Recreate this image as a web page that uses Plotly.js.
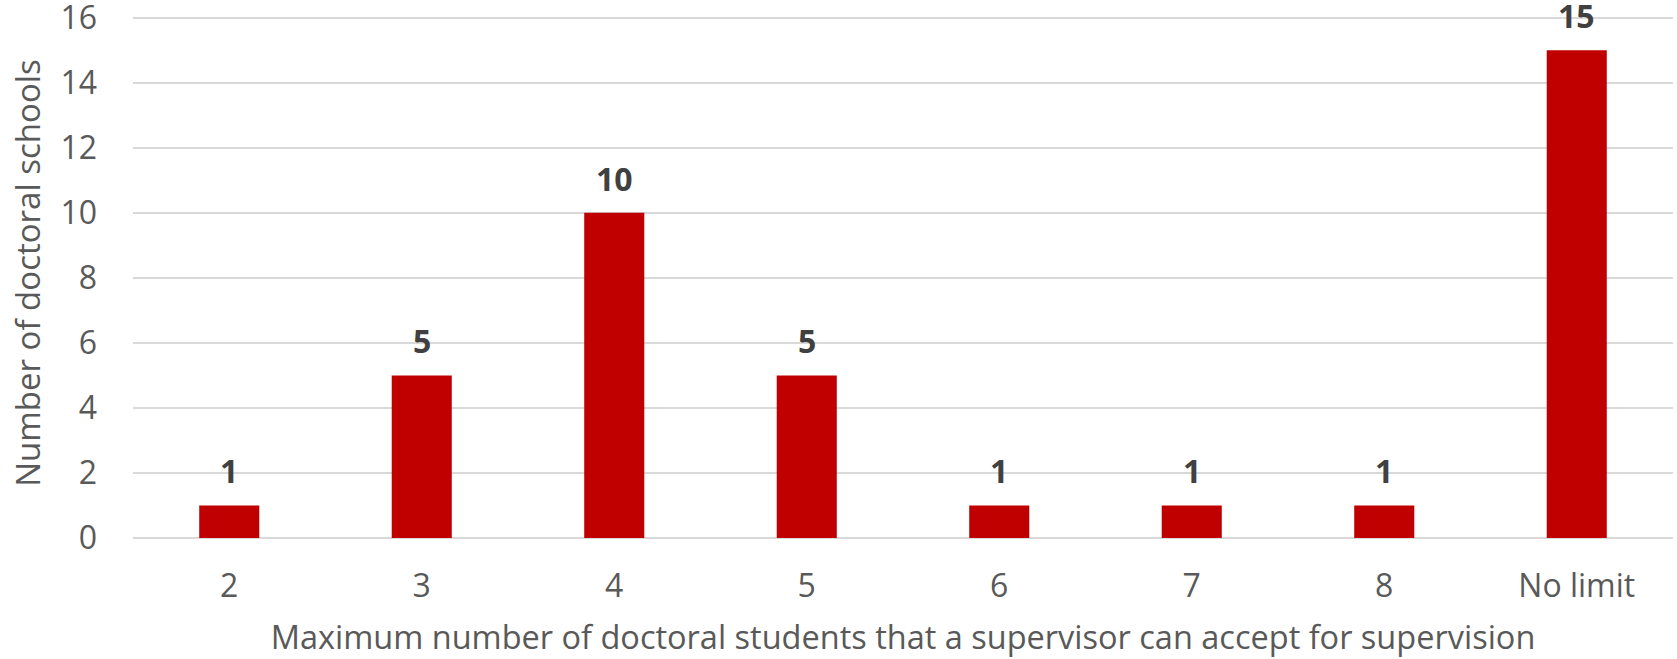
<!DOCTYPE html>
<html>
<head>
<meta charset="utf-8">
<script src="https://cdn.plot.ly/plotly-3.0.1.min.js"></script>
<style>html,body{margin:0;padding:0;background:#fff;}#chart{width:1677px;height:659px;}</style>
</head>
<body>
<div id="chart"></div>
<script>
const categories = ["2", "3", "4", "5", "6", "7", "8", "No limit"];
const values = [1, 5, 10, 5, 1, 1, 1, 15];
const yTickValues = [0, 2, 4, 6, 8, 10, 12, 14, 16];

const FONT = "'Open Sans', Lato, sans-serif";

const trace = {
  type: "bar",
  x: categories,
  y: values,
  marker: {color: "#C00000"},
  width: 0.312,
  hoverinfo: "none"
};

const annotations = categories.map((c, i) => ({
  x: i, y: values[i], xref: "x", yref: "y",
  text: "<b>" + values[i] + "</b>",
  showarrow: false, yanchor: "bottom", yshift: 11,
  font: {family: FONT, size: 32, color: "#404040"}
}));

const layout = {
  width: 1677, height: 659,
  margin: {l: 133, r: 4, t: 8, b: 121},
  paper_bgcolor: "#fff", plot_bgcolor: "#fff",
  showlegend: false,
  bargap: 0.688,
  xaxis: {
    type: "category",
    showgrid: false, zeroline: false, showline: false,
    ticks: "", ticklen: 0,
    ticklabelstandoff: 26,
    tickfont: {family: FONT, size: 32, color: "#595959"},
    title: {text: "Maximum number of doctoral students that a supervisor can accept for supervision",
            font: {family: FONT, size: 32.5, color: "#595959"}, standoff: 31}
  },
  yaxis: {
    range: [0, 16.3], tickvals: yTickValues,
    showgrid: true, gridcolor: "#d9d9d9", gridwidth: 1.5,
    zeroline: true, zerolinecolor: "#d9d9d9", zerolinewidth: 1.5,
    showline: false, ticks: "",
    ticklabeloverflow: "allow",
    tickfont: {family: FONT, size: 32, color: "#595959"},
    ticklabelstandoff: 35,
    title: {text: "Number of doctoral schools",
            font: {family: FONT, size: 33, color: "#595959"}, standoff: 9}
  },
  annotations: annotations
};

Plotly.newPlot("chart", [trace], layout, {displayModeBar: false, staticPlot: true});
</script>
</body>
</html>
